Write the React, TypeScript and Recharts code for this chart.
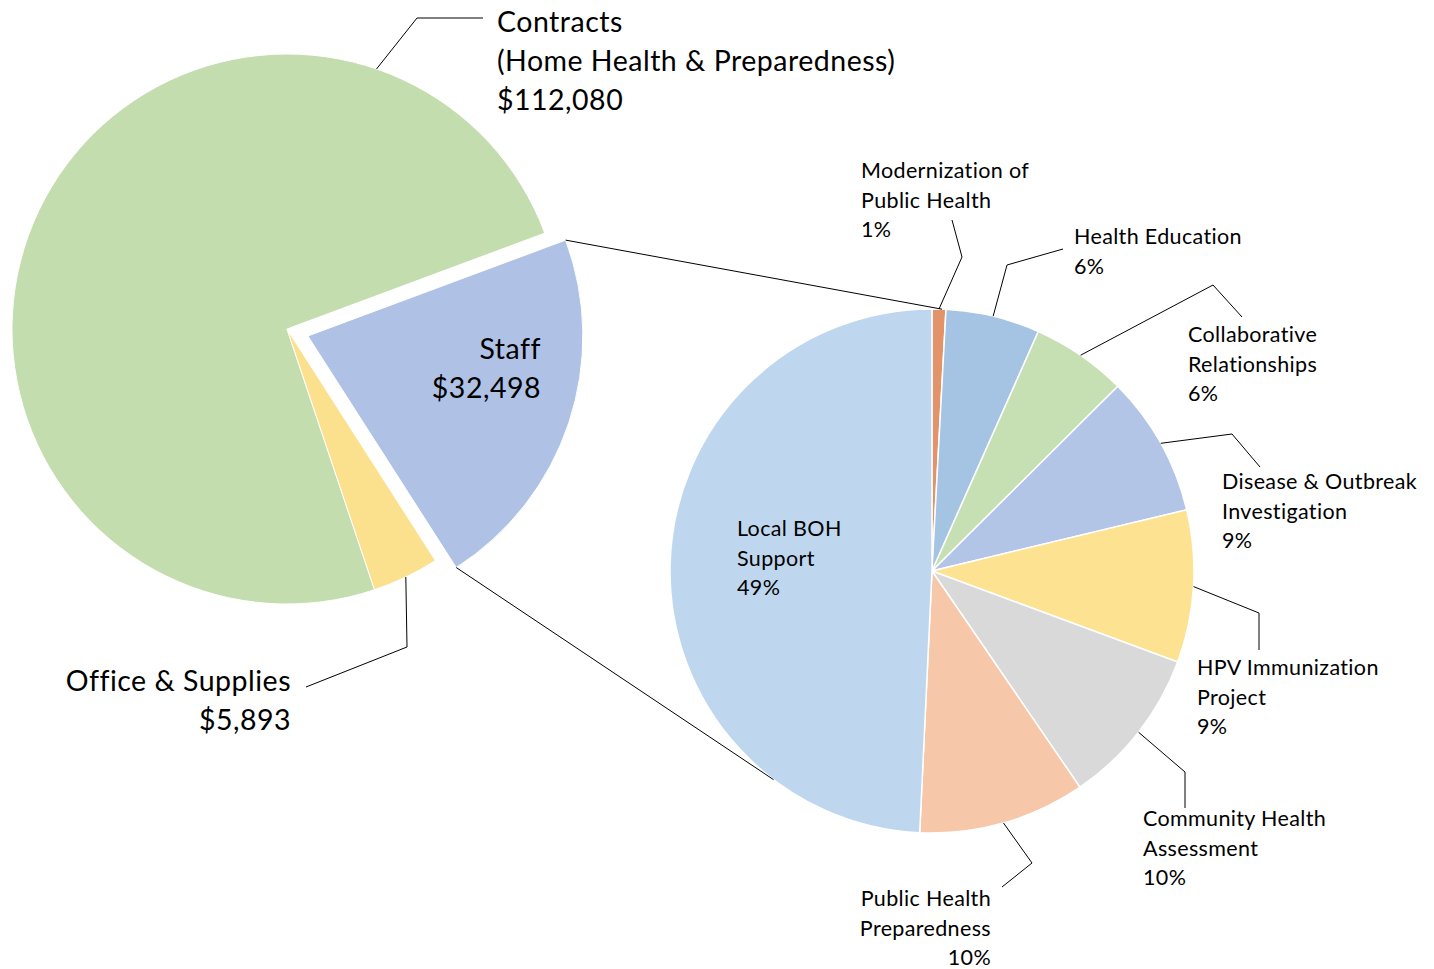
import { PieChart, Pie, Cell } from "recharts";

// primary pie (budget totals)
const mainNames = ["Contracts\n(Home Health & Preparedness)", "Office & Supplies", "Staff"];
const mainValues = [112080, 5893, 32498];
const mainColors = ["#c3ddaf", "#fbe08e", "#afc2e5"];

// secondary pie (staff breakdown)
const staffNames = [
  "Modernization of\nPublic Health",
  "Health Education",
  "Collaborative\nRelationships",
  "Disease & Outbreak\nInvestigation",
  "HPV Immunization\nProject",
  "Community Health\nAssessment",
  "Public Health\nPreparedness",
  "Local BOH\nSupport",
];
const staffValues = [276, 1885, 1917, 2827, 3055, 3185, 3347, 16006];
const staffColors = [
  "#e39369",
  "#a5c3e2",
  "#c6e0b3",
  "#b2c5e7",
  "#fde391",
  "#d9d9d9",
  "#f6c7a8",
  "#bed7ef",
];

const W = 1434;
const H = 969;
const FONT = "Lato, Carlito, Calibri, sans-serif";
const RADIAN = Math.PI / 180;

const MAIN_CX = 287;
const MAIN_CY = 329;
const MAIN_R = 275;
const MAIN_START = 20.4;
const EXPLODE = 22;

const SUB_CX = 932;
const SUB_CY = 571;
const SUB_R = 262;
// where the series lines meet the secondary pie (degrees)
const SUB_TOP_ANGLE = 87.8;
const SUB_BOTTOM_ANGLE = 232.8;

const mainData = mainNames.map((name, i) => ({ name, value: mainValues[i] }));
const staffData = staffNames.map((name, i) => ({ name, value: staffValues[i] }));

const mainTotal = mainValues.reduce((a, b) => a + b, 0);
const staffIndex = 2;
const staffStart =
  MAIN_START + (360 * mainValues.slice(0, staffIndex).reduce((a, b) => a + b, 0)) / mainTotal;
const staffEnd = staffStart + (360 * mainValues[staffIndex]) / mainTotal;
const staffMid = (staffStart + staffEnd) / 2;
const STAFF_CX = MAIN_CX + EXPLODE * Math.cos(staffMid * RADIAN);
const STAFF_CY = MAIN_CY - EXPLODE * Math.sin(staffMid * RADIAN);

type Layout = {
  anchorAngle?: number;
  elbow?: [number, number];
  end?: [number, number];
  x: number;
  y: number;
  align: "start" | "end";
};

const mainLabelLayout: Layout[] = [
  { anchorAngle: 71, elbow: [417, 18], end: [483, 18], x: 497, y: 21, align: "start" },
  { elbow: [407, 647], end: [306, 687], x: 291, y: 680, align: "end" },
  { x: 541, y: 348, align: "end" },
];

const staffLabelLayout: Layout[] = [
  { elbow: [962, 257], end: [952, 220], x: 861, y: 170, align: "start" },
  { elbow: [1007, 265], end: [1063, 249], x: 1074, y: 236, align: "start" },
  { elbow: [1213, 285], end: [1242, 317], x: 1188, y: 334, align: "start" },
  { elbow: [1232, 434], end: [1260, 467], x: 1222, y: 481, align: "start" },
  { elbow: [1259, 613], end: [1259, 650], x: 1197, y: 667, align: "start" },
  { elbow: [1185, 772], end: [1185, 808], x: 1143, y: 818, align: "start" },
  { elbow: [1032, 863], end: [1002, 887], x: 991, y: 898, align: "end" },
  { x: 737, y: 528, align: "start" },
];

const onCircle = (cx: number, cy: number, r: number, angle: number) => [
  cx + r * Math.cos(angle * RADIAN),
  cy - r * Math.sin(angle * RADIAN),
];

function LabelBlock({
  cx,
  cy,
  r,
  midAngle,
  layout,
  lines,
  fontSize,
  spacing,
  lineHeight,
}: {
  cx: number;
  cy: number;
  r: number;
  midAngle: number;
  layout: Layout;
  lines: string[];
  fontSize: number;
  spacing: number;
  lineHeight: number;
}) {
  let leader = null;
  if (layout.elbow && layout.end) {
    const [sx, sy] = onCircle(cx, cy, r, layout.anchorAngle ?? midAngle);
    const pts = `${sx},${sy} ${layout.elbow[0]},${layout.elbow[1]} ${layout.end[0]},${layout.end[1]}`;
    leader = <polyline points={pts} fill="none" stroke="#000" strokeWidth={1} />;
  }
  return (
    <g>
      {leader}
      {lines.map((line, i) => (
        <text
          key={i}
          x={layout.x}
          y={layout.y + i * lineHeight}
          textAnchor={layout.align}
          dominantBaseline="central"
          fontFamily={FONT}
          fontSize={fontSize}
          letterSpacing={spacing}
          fill="#000"
        >
          {line}
        </text>
      ))}
    </g>
  );
}

const money = (v: number) => "$" + v.toLocaleString("en-US");

const mainLabel = (showStaff: boolean) => (props: any) => {
  const { index, midAngle, value } = props;
  if ((index === staffIndex) !== showStaff) return null;
  const lines = [...mainNames[index].split("\n"), money(value)];
  const block = (
    <LabelBlock
      cx={showStaff ? STAFF_CX : MAIN_CX}
      cy={showStaff ? STAFF_CY : MAIN_CY}
      r={MAIN_R}
      midAngle={midAngle}
      layout={mainLabelLayout[index]}
      lines={lines}
      fontSize={28.5}
      spacing={0.5}
      lineHeight={39}
    />
  );
  if (!showStaff) return block;
  // series lines from the exploded slice to the secondary pie
  const [ax, ay] = onCircle(STAFF_CX, STAFF_CY, MAIN_R, staffEnd);
  const [bx, by] = onCircle(STAFF_CX, STAFF_CY, MAIN_R, staffStart);
  const [tx, ty] = onCircle(SUB_CX, SUB_CY, SUB_R, SUB_TOP_ANGLE);
  const [ux, uy] = onCircle(SUB_CX, SUB_CY, SUB_R, SUB_BOTTOM_ANGLE);
  return (
    <g>
      <line x1={ax} y1={ay} x2={tx} y2={ty} stroke="#000" strokeWidth={1} />
      <line x1={bx} y1={by} x2={ux} y2={uy} stroke="#000" strokeWidth={1} />
      {block}
    </g>
  );
};

const staffLabel = (props: any) => {
  const { index, midAngle, percent } = props;
  const lines = [...staffNames[index].split("\n"), `${Math.round(percent * 100)}%`];
  return (
    <LabelBlock
      cx={SUB_CX}
      cy={SUB_CY}
      r={SUB_R}
      midAngle={midAngle}
      layout={staffLabelLayout[index]}
      lines={lines}
      fontSize={21.5}
      spacing={0.35}
      lineHeight={29.5}
    />
  );
};

export default function App() {
  return (
    <div style={{ position: "absolute", left: 0, top: 0, width: W, height: H, background: "#fff" }}>
      <PieChart width={W} height={H} margin={{ top: 0, right: 0, bottom: 0, left: 0 }}>
        <Pie
          data={mainData}
          dataKey="value"
          nameKey="name"
          cx={MAIN_CX}
          cy={MAIN_CY}
          outerRadius={MAIN_R}
          startAngle={MAIN_START}
          endAngle={MAIN_START + 360}
          label={mainLabel(false)}
          labelLine={false}
          isAnimationActive={false}
        >
          {mainData.map((d, i) => (
            <Cell
              key={d.name}
              fill={i === staffIndex ? "transparent" : mainColors[i]}
              stroke={i === staffIndex ? "none" : "#ffffff"}
              strokeWidth={1}
            />
          ))}
        </Pie>
        <Pie
          data={mainData}
          dataKey="value"
          nameKey="name"
          cx={STAFF_CX}
          cy={STAFF_CY}
          outerRadius={MAIN_R}
          startAngle={MAIN_START}
          endAngle={MAIN_START + 360}
          label={mainLabel(true)}
          labelLine={false}
          isAnimationActive={false}
        >
          {mainData.map((d, i) => (
            <Cell
              key={d.name}
              fill={i === staffIndex ? mainColors[i] : "transparent"}
              stroke={i === staffIndex ? "#ffffff" : "none"}
              strokeWidth={1}
            />
          ))}
        </Pie>
        <Pie
          data={staffData}
          dataKey="value"
          nameKey="name"
          cx={SUB_CX}
          cy={SUB_CY}
          outerRadius={SUB_R}
          startAngle={90}
          endAngle={-270}
          label={staffLabel}
          labelLine={false}
          isAnimationActive={false}
        >
          {staffData.map((d, i) => (
            <Cell key={d.name} fill={staffColors[i]} stroke="#ffffff" strokeWidth={1.5} />
          ))}
        </Pie>
      </PieChart>
    </div>
  );
}
